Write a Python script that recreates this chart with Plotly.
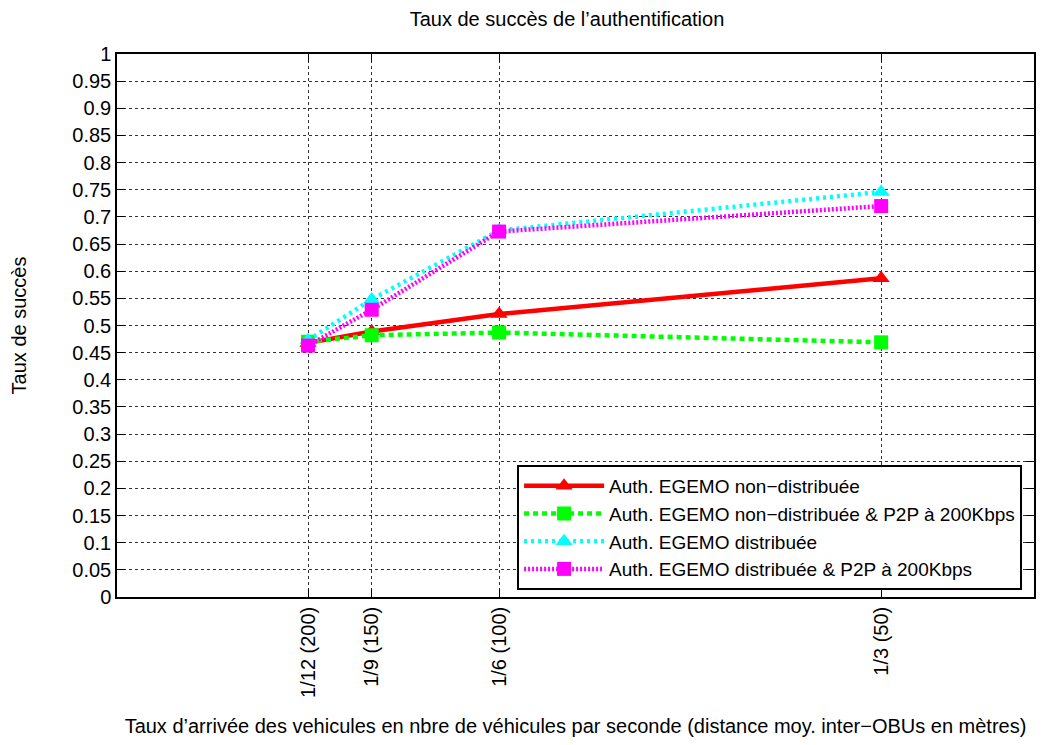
import plotly.graph_objs as go

# taux d'arrivee (vehicules / seconde)
x_vals = [1/12, 1/9, 1/6, 1/3]
x_labels = ['1/12 (200)', '1/9 (150)', '1/6 (100)', '1/3 (50)']

non_distrib = [0.468, 0.489, 0.521, 0.587]
non_distrib_p2p = [0.470, 0.482, 0.487, 0.469]
distrib = [0.473, 0.548, 0.675, 0.746]
distrib_p2p = [0.463, 0.529, 0.673, 0.720]

series_names = [
    'Auth. EGEMO non\u2212distribuée',
    'Auth. EGEMO non\u2212distribuée & P2P à 200Kbps',
    'Auth. EGEMO distribuée',
    'Auth. EGEMO distribuée & P2P à 200Kbps',
]

font_family = 'Liberation Sans, Arial, sans-serif'

fig = go.Figure()

fig.add_trace(go.Scatter(
    x=x_vals, y=non_distrib, name=series_names[0],
    mode='lines+markers',
    line=dict(color='#ff0000', width=4.5),
    marker=dict(symbol='triangle-up', size=15, color='#ff0000'),
))
fig.add_trace(go.Scatter(
    x=x_vals, y=non_distrib_p2p, name=series_names[1],
    mode='lines+markers',
    line=dict(color='#00ff00', width=4.5, dash='5px,4px'),
    marker=dict(symbol='square', size=14, color='#00ff00'),
))
fig.add_trace(go.Scatter(
    x=x_vals, y=distrib, name=series_names[2],
    mode='lines+markers',
    line=dict(color='#00ffff', width=4.5, dash='3px,4px'),
    marker=dict(symbol='triangle-up', size=15, color='#00ffff'),
))
fig.add_trace(go.Scatter(
    x=x_vals, y=distrib_p2p, name=series_names[3],
    mode='lines+markers',
    line=dict(color='#ff00ff', width=4.5, dash='2px,2px'),
    marker=dict(symbol='square', size=14, color='#ff00ff'),
))

grid = dict(showgrid=True, gridcolor='#333333', griddash='dot', gridwidth=1,
            showline=True, linecolor='black', linewidth=1.5, mirror='ticks',
            ticks='inside', ticklen=8, tickcolor='black', zeroline=False)

# page body has an 8px margin, so the figure is a bit smaller than the window
fig.update_layout(
    width=1034, height=729,
    paper_bgcolor='white', plot_bgcolor='white',
    font=dict(family=font_family, size=20, color='black'),
    margin=dict(l=109, r=6, t=46, b=140),
    title=dict(text='Taux de succès de l\u2019authentification', x=0.5406, xanchor='center',
               y=0.985, yanchor='middle', font=dict(size=20)),
    xaxis=dict(range=[0, 0.4], tickvals=x_vals, ticktext=x_labels, tickangle=-90,
               automargin=False,
               title=dict(text='Taux d\u2019arrivée des vehicules en nbre de véhicules par seconde '
                               '(distance moy. inter\u2212OBUs en mètres)', standoff=24,
                          font=dict(size=20)),
               **grid),
    yaxis=dict(range=[0, 1], dtick=0.05, tickformat='.2~f',
               title=dict(text='Taux de succès', standoff=42, font=dict(size=20)),
               **grid),
    legend=dict(x=0.987, xanchor='right', y=0.013, yanchor='bottom',
                bgcolor='white', bordercolor='black', borderwidth=2,
                font=dict(size=19), itemwidth=80, tracegroupgap=0),
    showlegend=True,
)

fig.write_html('out.html')
